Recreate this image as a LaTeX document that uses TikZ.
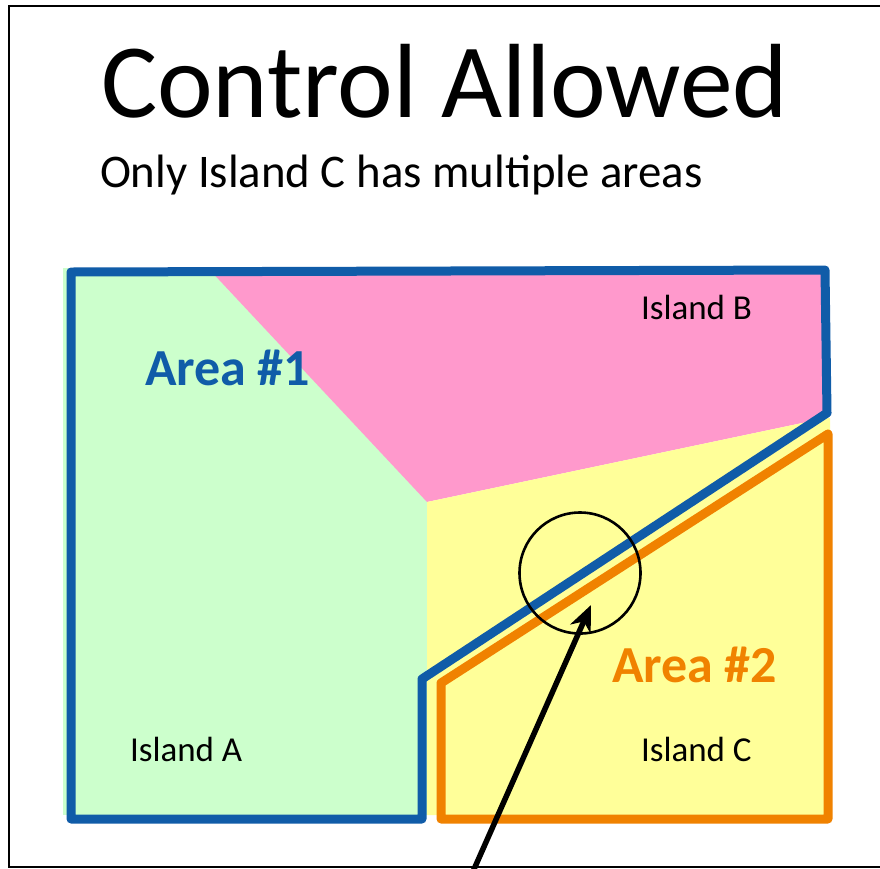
\documentclass[tikz,border=0pt]{standalone}
\usepackage{fontspec}
\setmainfont{Carlito}
\usetikzlibrary{arrows.meta}
\definecolor{areablue}{HTML}{105CA8}
\definecolor{areaorange}{HTML}{F08200}
\definecolor{islgreen}{HTML}{CCFFCC}
\definecolor{islpink}{HTML}{FF99CC}
\definecolor{islyellow}{HTML}{FFFF99}
\tikzset{
  txt/.style={anchor=base west, inner sep=0pt, outer sep=0pt},
  border1/.style={draw=areablue, line width=9pt, line join=round},
  border2/.style={draw=areaorange, line width=9pt, line join=round},
}
\begin{document}
\begin{tikzpicture}[x=1pt,y=-1pt]
\useasboundingbox (0,0) rectangle (880,868);
\fill[white] (0,0) rectangle (880,868);
% outer frame
\draw[line width=2.6pt] (890,6) -- (9,6) -- (9,867) -- (890,867);
% island fills
\fill[islgreen] (63,268) rectangle (427,815);
\fill[islpink] (208,268) -- (826,268) -- (826,418) -- (427,502) -- cycle;
\fill[islyellow] (427,502) -- (826,418) -- (830,418) -- (830,815) -- (427,815) -- cycle;
% area borders
\draw[border1] (71,272) -- (825,270) -- (827,413) -- (422,679) -- (422,819) -- (71,819) -- cycle;
\draw[border2] (828,434) -- (441,683) -- (441,819) -- (828,819) -- cycle;
% texts
\node[txt, font=\fontsize{105.5}{110}\selectfont] (title) at (101,117) {Control Allowed};
\node[txt, font=\fontsize{46.8}{50}\selectfont] (subtitle) at (100,187) {Only Island C has multiple areas};
\node[txt, font=\bfseries\fontsize{52}{55}\selectfont, text=areablue] (a1) at (145,385) {Area \#1};
\node[txt, font=\bfseries\fontsize{52}{55}\selectfont, text=areaorange] (a2) at (612,682) {Area \#2};
\node[txt, font=\fontsize{35}{38}\selectfont] (isa) at (130,761) {Island A};
\node[txt, font=\fontsize{35}{38}\selectfont] (isb) at (641,319) {Island B};
\node[txt, font=\fontsize{35}{38}\selectfont] (isc) at (641,761) {Island C};
% highlight circle and arrow
\node[draw, line width=2.6pt, circle, minimum size=121pt, inner sep=0pt] (ring) at (580,573) {};
\coordinate (tip) at (591,605);
\coordinate (tail) at (471,876);
\draw[line width=5.5pt, -{Stealth[length=26pt, width=22pt, inset=8pt]}] (tail) -- (tip);
\end{tikzpicture}
\end{document}
